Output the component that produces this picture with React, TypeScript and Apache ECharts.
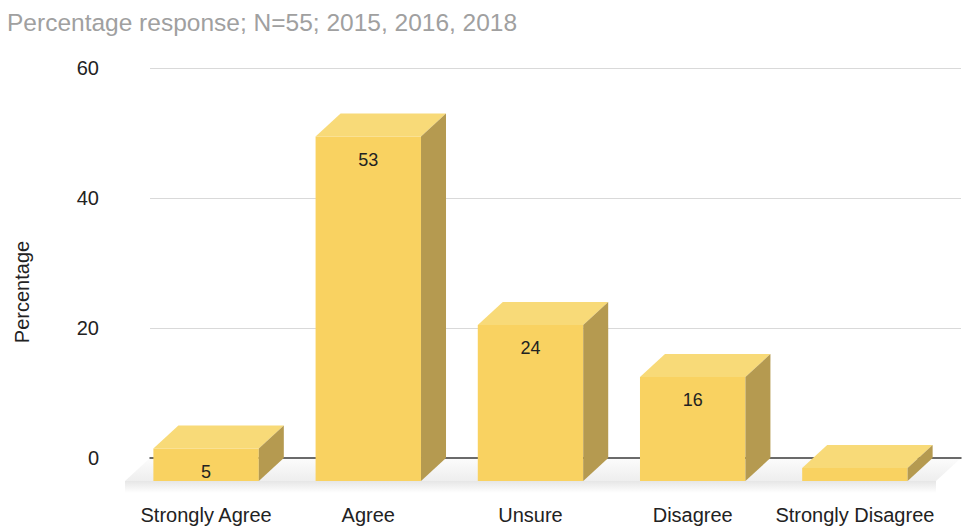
import React, { useEffect, useRef } from "react";
import * as echarts from "echarts";

const categories = ["Strongly Agree", "Agree", "Unsure", "Disagree", "Strongly Disagree"];
const values = [5, 53, 24, 16, 2];
const valueLabels = ["5", "53", "24", "16", ""];
const yTicks = { min: 0, max: 60, interval: 20 };
const title = "Percentage response; N=55; 2015, 2016, 2018";
const yName = "Percentage";

const DX = 25;
const DY = 23;
const FRONT = "#F9D261";
const TOP = "#F8DA78";
const SIDE = "#B59A50";

export default function App() {
  const ref = useRef<HTMLDivElement>(null);
  useEffect(() => {
    if (!ref.current) return;
    const chart = echarts.init(ref.current, undefined, { renderer: "svg" });
    const barData = values.map((v, i) => [i, v, valueLabels[i]]);
    chart.setOption({
      animation: false,
      backgroundColor: "#ffffff",
      title: {
        text: title,
        left: 2,
        top: 5,
        textStyle: { fontFamily: "Liberation Sans, Arial", fontSize: 24.5, fontWeight: "normal", color: "#a0a0a0" },
      },
      grid: { left: 150, right: 6, top: 68, bottom: 69, containLabel: false },
      xAxis: {
        type: "category",
        data: categories,
        axisLine: { show: true, lineStyle: { color: "#3a3a3a", width: 1.5 } },
        axisTick: { show: false },
        axisLabel: {
          interval: 0,
          margin: 47,
          fontFamily: "Liberation Sans, Arial",
          fontSize: 20,
          color: "#222",
          padding: [0, 50, 0, 0],
        },
        splitLine: { show: false },
        z: 3,
      },
      yAxis: {
        type: "value",
        min: yTicks.min,
        max: yTicks.max,
        interval: yTicks.interval,
        axisLine: { show: false },
        axisTick: { show: false },
        axisLabel: { margin: 51, fontFamily: "Liberation Sans, Arial", fontSize: 20, color: "#222" },
        splitLine: { lineStyle: { color: "#d9d9d9", width: 1 } },
      },
      graphic: [
        {
          type: "text",
          x: 22,
          y: 292,
          rotation: Math.PI / 2,
          style: {
            text: yName,
            fontFamily: "Liberation Sans, Arial",
            fontSize: 20,
            fill: "#222",
            align: "center",
            verticalAlign: "middle",
          },
        },
      ],
      series: [
        {
          type: "custom",
          z: 1,
          silent: true,
          data: [[0]],
          renderItem: (params: any, api: any) => {
            const band = api.size([1, 0])[0];
            const a = api.coord([0, 0]);
            const b = api.coord([categories.length - 1, 0]);
            const L = a[0] - band / 2;
            const R = b[0] + band / 2;
            const y0 = a[1];
            return {
              type: "group",
              children: [
                {
                  type: "polygon",
                  shape: { points: [[L, y0], [R, y0], [R - DX, y0 + DY], [L - DX, y0 + DY]] },
                  style: {
                    fill: new echarts.graphic.LinearGradient(0, 0, 0, 1, [
                      { offset: 0, color: "#fcfcfc" },
                      { offset: 1, color: "#eeeeee" },
                    ]),
                  },
                },
                {
                  type: "rect",
                  shape: { x: L - DX, y: y0 + DY, width: R - L, height: 12 },
                  style: {
                    fill: new echarts.graphic.LinearGradient(0, 0, 0, 1, [
                      { offset: 0, color: "#e6e6e6" },
                      { offset: 1, color: "#ffffff" },
                    ]),
                  },
                },
              ],
            };
          },
        },
        {
          type: "custom",
          z: 5,
          data: barData,
          renderItem: (params: any, api: any) => {
            const idx = api.value(0);
            const val = api.value(1);
            const lab = valueLabels[idx];
            const base = api.coord([idx, 0]);
            const top = api.coord([idx, val]);
            const band = api.size([1, 0])[0];
            const w = band * 0.65;
            const bx = base[0] - w / 2;
            const yT = top[1];
            const yB = base[1];
            const fx = bx - DX;
            const children: any[] = [
              {
                type: "rect",
                shape: { x: fx, y: yT + DY, width: w, height: yB - yT },
                style: { fill: FRONT },
              },
              {
                type: "polygon",
                shape: { points: [[fx, yT + DY], [fx + w, yT + DY], [bx + w, yT], [bx, yT]] },
                style: { fill: TOP },
              },
              {
                type: "polygon",
                shape: { points: [[fx + w, yT + DY], [bx + w, yT], [bx + w, yB], [fx + w, yB + DY]] },
                style: { fill: SIDE },
              },
            ];
            if (lab) {
              children.push({
                type: "text",
                x: fx + w / 2,
                y: yT + DY + 23,
                style: {
                  text: lab,
                  fontFamily: "Liberation Sans, Arial",
                  fontSize: 18,
                  fill: "#222",
                  align: "center",
                  verticalAlign: "middle",
                },
              });
            }
            return { type: "group", children };
          },
        },
      ],
    });
    return () => chart.dispose();
  }, []);
  return <div ref={ref} style={{ width: 967, height: 527, position: "absolute", left: 0, top: 0 }} />;
}
